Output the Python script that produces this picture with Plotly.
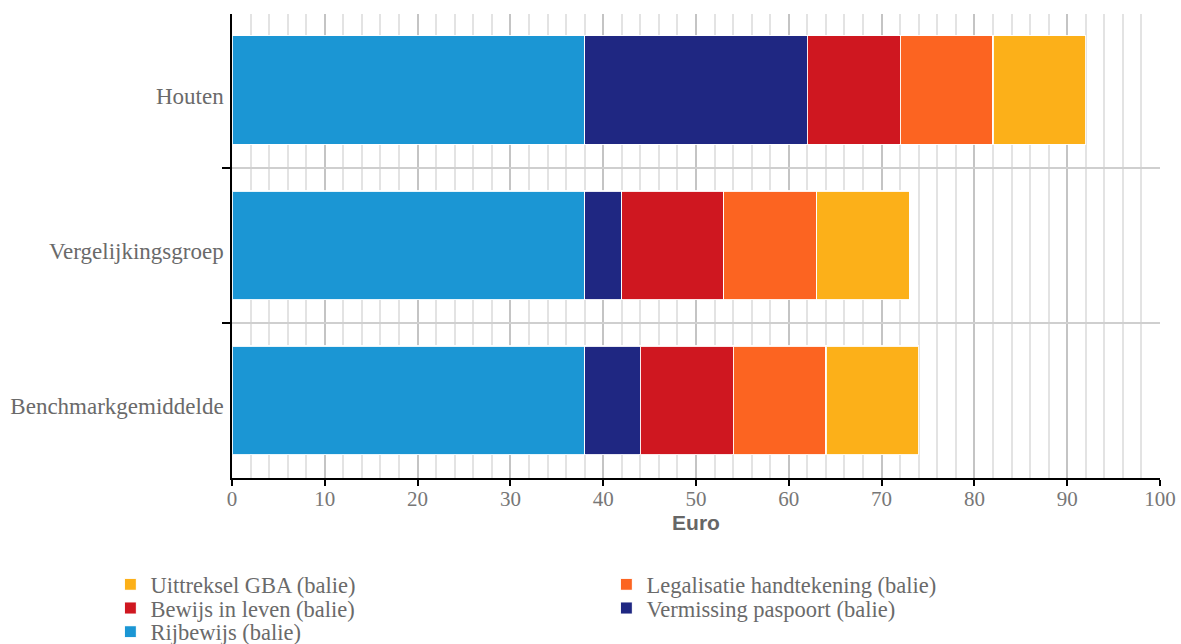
import plotly.graph_objects as go

# Municipal desk fees (euro) per comparison group
categories = ["Houten", "Vergelijkingsgroep", "Benchmarkgemiddelde"]

rijbewijs = [38, 38, 38]
vermissing = [24, 4, 6]
bewijs_in_leven = [10, 11, 10]
legalisatie = [10, 10, 10]
uittreksel = [10, 10, 10]

x_ticks = [0, 10, 20, 30, 40, 50, 60, 70, 80, 90, 100]

series = [
    ("Rijbewijs (balie)", rijbewijs, "#1b96d4", "legend3"),
    ("Vermissing paspoort (balie)", vermissing, "#1f2782", "legend2"),
    ("Bewijs in leven (balie)", bewijs_in_leven, "#cf1720", "legend2"),
    ("Legalisatie handtekening (balie)", legalisatie, "#fc6421", "legend"),
    ("Uittreksel GBA (balie)", uittreksel, "#fcb019", "legend"),
]

fig = go.Figure()
for name, values, color, leg in series:
    fig.add_trace(go.Bar(
        y=categories,
        x=values,
        name=name,
        orientation="h",
        marker=dict(color=color, line=dict(color="rgba(255,255,255,0.9)", width=1.2)),
        legend=leg,
    ))

serif = "Liberation Serif, DejaVu Serif, serif"
legend_font = dict(family=serif, size=22.5, color="#6a6a6a")
legend_common = dict(
    orientation="h",
    xref="paper", yref="paper",
    x=-0.131, xanchor="left",
    yanchor="middle",
    font=legend_font,
    entrywidth=451, entrywidthmode="pixels",
    traceorder="reversed",
    bgcolor="rgba(0,0,0,0)",
)

fig.update_layout(
    width=1181,
    height=644,
    margin=dict(l=232, r=21, t=14, b=166, autoexpand=False),
    paper_bgcolor="white",
    plot_bgcolor="white",
    barmode="stack",
    bargap=0.3,
    showlegend=True,
    legend=dict(legend_common, y=-0.230),
    legend2=dict(legend_common, y=-0.281),
    legend3=dict(legend_common, y=-0.332),
    xaxis=dict(
        range=[0, 100],
        tickvals=x_ticks,
        ticks="outside",
        ticklen=6,
        tickcolor="black",
        tickwidth=1.5,
        showline=True,
        linecolor="black",
        linewidth=1.5,
        showgrid=True,
        gridcolor="#c4c4c4",
        gridwidth=1.5,
        minor=dict(dtick=2, showgrid=True, gridcolor="#e3e3e3", gridwidth=1.5),
        tickfont=dict(family=serif, size=21, color="#777777"),
        ticklabelstandoff=-5,
        title=dict(text="<b>Euro</b>", font=dict(family="Liberation Sans, Arial, sans-serif", size=21, color="#666666"), standoff=0),
        zeroline=False,
    ),
    yaxis=dict(
        range=[2.5, -0.49],
        tickson="boundaries",
        ticks="outside",
        ticklen=8,
        tickcolor="black",
        tickwidth=1.5,
        showline=True,
        linecolor="black",
        linewidth=1.5,
        showgrid=True,
        gridcolor="#cfcfcf",
        gridwidth=1.5,
        tickfont=dict(family=serif, size=23, color="#6a6a6a"),
        ticklabelstandoff=2,
        ticklabelshift=-6,
    ),
)

fig.write_html("out.html")
